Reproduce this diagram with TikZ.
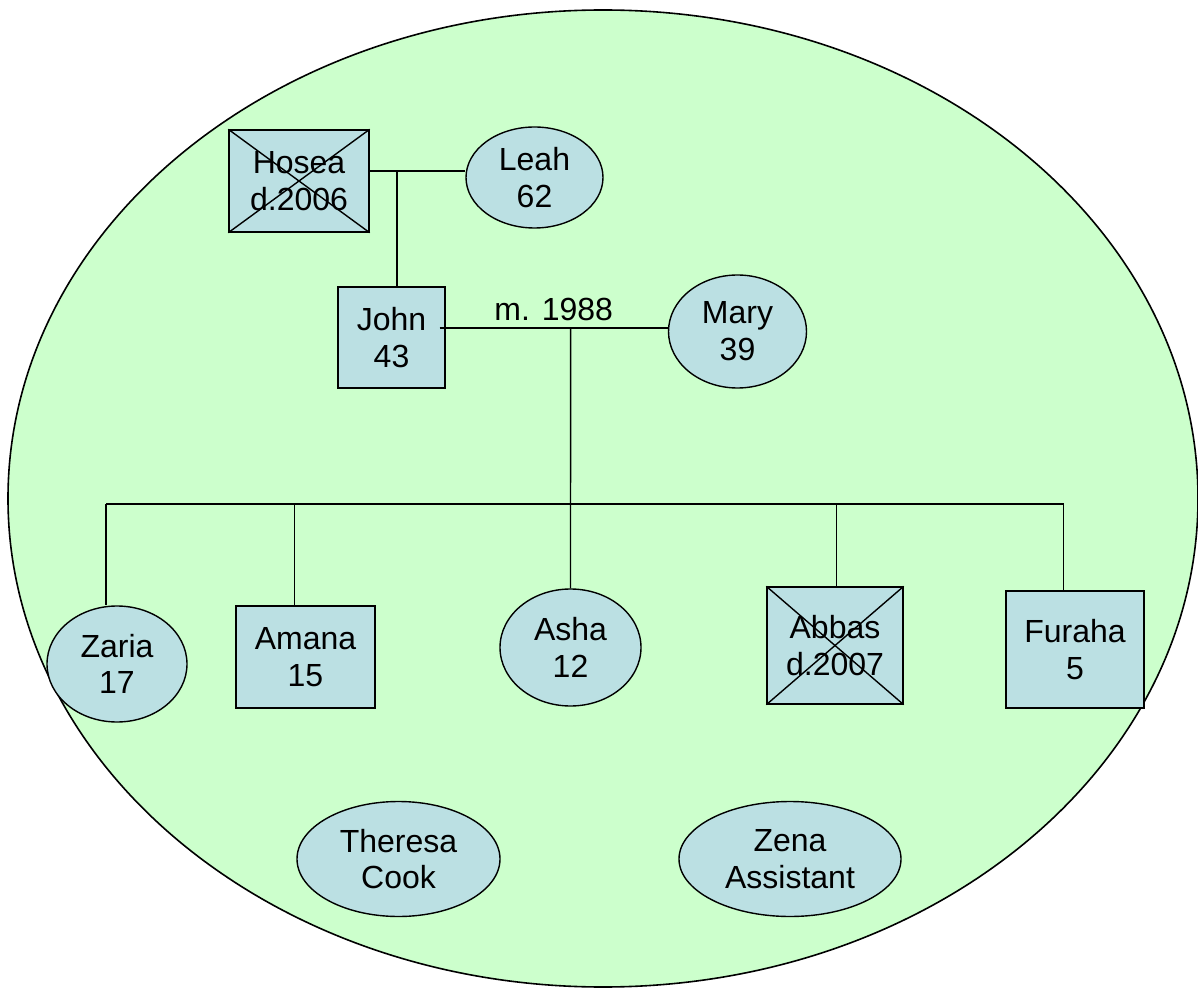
\documentclass[tikz,border=0pt]{standalone}
\usepackage{fontspec}
\setmainfont{Liberation Sans}
\usetikzlibrary{shapes.geometric}
\definecolor{houseGreen}{RGB}{204,255,204}
\definecolor{personBlue}{RGB}{187,224,227}
\tikzset{
  person/.style={draw, fill=personBlue, line width=0.7pt, inner sep=0pt, align=center,
    font=\fontsize{16pt}{18.4pt}\selectfont},
  male/.style={person, rectangle},
  female/.style={person, ellipse},
  tie/.style={line width=0.7pt}
}
\begin{document}
\begin{tikzpicture}[x=0.5pt, y=-0.5pt]
    \useasboundingbox (0,0) rectangle (1198,988);

    % Household
    \draw[fill=houseGreen, line width=0.8pt] (603,498.5) ellipse [x radius=595, y radius=488.5];

    \node[male, minimum width=70pt, minimum height=51pt] (hosea) at (299,181) {Hosea\\d.2006};
    \node[female, minimum width=68.5pt, minimum height=50.5pt] (leah) at (534.5,177.5) {Leah\\62};
    \node[male, minimum width=53.5pt, minimum height=50.5pt] (john) at (391.5,337.5) {John\\43};
    \node[female, minimum width=69pt, minimum height=56.5pt] (mary) at (737.5,331.5) {Mary\\39};

    \node[female, minimum width=70pt, minimum height=58pt] (zaria) at (117,664) {Zaria\\17};
    \node[male, minimum width=69.5pt, minimum height=51pt] (amana) at (305.5,657) {Amana\\15};
    \node[female, minimum width=70.5pt, minimum height=58.5pt] (asha) at (570.5,647.5) {Asha\\12};
    \node[male, minimum width=68pt, minimum height=58.5pt] (abbas) at (835,645.5) {Abbas\\d.2007};
    \node[male, minimum width=69pt, minimum height=58.5pt] (furaha) at (1075,649.5) {Furaha\\5};

    \node[female, minimum width=101.5pt, minimum height=57.5pt] (theresa) at (398.5,859) {Theresa\\Cook};
    \node[female, minimum width=111pt, minimum height=57.5pt] (zena) at (790,859) {Zena\\Assistant};

    % Deceased
    \foreach \dead in {hosea,abbas} {
        \draw[tie] (\dead.north west) -- (\dead.south east);
        \draw[tie] (\dead.south west) -- (\dead.north east);
    }

    % Marriages and descent
    \coordinate (hl) at (397,171);
    \coordinate (jm) at (570.6,328);
    \coordinate (sib) at (570.6,504);
    \draw[tie] (hosea.east |- hl) -- (leah.west |- hl);
    \draw[tie] (hl) -- (hl |- john.north);
    \draw[tie] ([xshift=-3pt]john.east |- jm) -- node[above, font=\fontsize{16pt}{18.4pt}\selectfont] (wed) {m. 1988} (mary.west |- jm);
    \draw[tie] (jm) -- (asha.north);
    \draw[tie] ([xshift=-5.5pt]zaria.north |- sib) -- ([xshift=-5.7pt]furaha.north |- sib);
    \foreach \kid/\dx in {zaria/-5.5, amana/-5.4, abbas/0.8, furaha/-5.7}
        \draw[tie] ([xshift=\dx pt]\kid.north) -- ([xshift=\dx pt]\kid.north |- sib);
\end{tikzpicture}
\end{document}
